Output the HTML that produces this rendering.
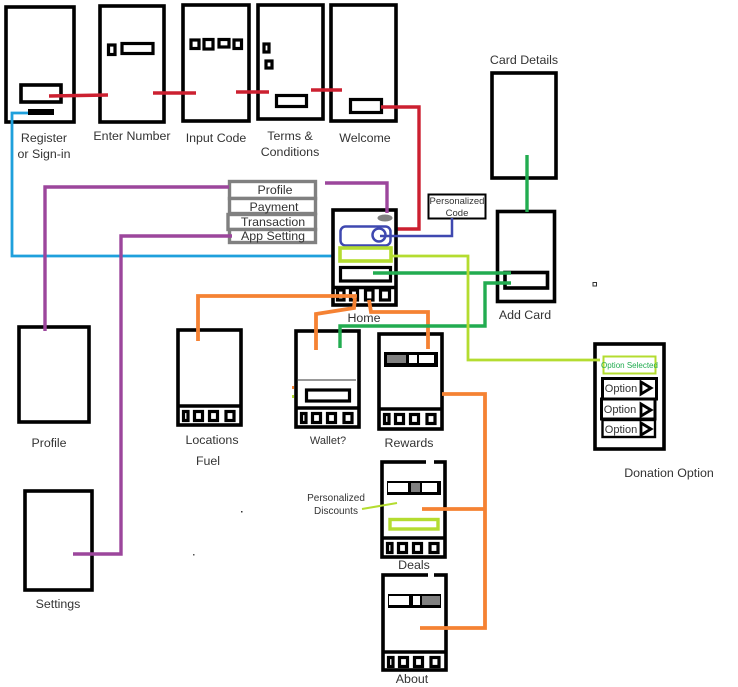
<!DOCTYPE html>
<html>
<head>
<meta charset="utf-8">
<style>
html,body{margin:0;padding:0;background:#fff}
svg{display:block;filter:blur(.35px)}
text{font-family:"Liberation Sans",sans-serif;font-size:12.4px;fill:#333;text-anchor:middle}
.b{fill:#fff;stroke:#000;stroke-width:3.6}
.s{fill:#fff;stroke:#000;stroke-width:3.2}
.l{fill:none;stroke-width:3.4;stroke-linejoin:miter}
.red{stroke:#cc2030}.blue{stroke:#1fa0dc;stroke-width:2.8}.pur{stroke:#9c469c}.or{stroke:#f58233;stroke-width:3.8}
.gr{stroke:#22ac50}.li{stroke:#b4dc30;stroke-width:2.8}.ind{stroke:#3f48b0;fill:none;stroke-width:2.5}
.g{fill:#fff;stroke:#808080;stroke-width:3.4}
</style>
</head>
<body>
<svg width="738" height="687" viewBox="0 0 738 687" xmlns="http://www.w3.org/2000/svg">
<defs>
<g id="nav">
<path d="M0 0H65" stroke="#000" stroke-width="3.4"/>
<rect x="6.500" y="5.500" width="4.500" height="9" class="s"/>
<rect x="17.500" y="5.500" width="8" height="9" class="s"/>
<rect x="32.500" y="5.500" width="8" height="9" class="s"/>
<rect x="49" y="5.500" width="8" height="9" class="s"/>
</g>
<path id="tri" d="M0 0L10 6L0 12Z" fill="#fff" stroke="#000" stroke-width="2.800"/>
</defs>

<!-- top row -->
<rect x="6" y="7" width="68" height="115" class="b"/>
<rect x="21" y="85" width="40" height="17" class="b"/>
<rect x="28" y="109" width="26" height="6" fill="#000"/>
<rect x="100" y="6" width="64" height="116" class="b"/>
<rect x="108.500" y="45" width="6.500" height="9.500" class="s"/>
<rect x="122" y="43.500" width="31" height="10" class="s"/>
<rect x="183" y="5" width="66" height="116" class="b"/>
<rect x="191" y="40" width="8" height="8.500" class="s"/>
<rect x="204" y="39.500" width="9" height="9.500" class="s"/>
<rect x="219" y="39.500" width="10" height="7.500" class="s"/>
<rect x="234" y="40" width="7.500" height="8.500" class="s"/>
<rect x="258" y="5" width="65" height="114" class="b"/>
<rect x="264" y="44" width="5" height="8" class="s"/>
<rect x="266" y="61" width="6" height="7" class="s"/>
<rect x="276.500" y="95.500" width="30" height="11" class="s"/>
<rect x="331" y="5" width="65" height="116" class="b"/>
<rect x="350.500" y="99.500" width="31" height="13" class="s"/>

<path class="l red" d="M49 96L108 95M153 93H196M236 92H269M311 90H342"/>
<path class="l red" d="M381 107H419V229H385"/>

<text x="44" y="142">Register</text>
<text x="44" y="158">or Sign-in</text>
<text x="132" y="140">Enter Number</text>
<text x="216" y="142">Input Code</text>
<text x="290" y="140">Terms &amp;</text>
<text x="290" y="156">Conditions</text>
<text x="365" y="142">Welcome</text>

<!-- blue -->
<path class="l blue" d="M28 113H12V256H335"/>

<!-- menu -->
<rect x="229.500" y="181.500" width="86" height="17" class="g"/>
<rect x="229.500" y="198.500" width="86" height="15" class="g"/>
<rect x="228" y="214.500" width="87.500" height="15" class="g"/>
<rect x="229.500" y="229.500" width="86" height="13" class="g"/>
<text x="275" y="194">Profile</text>
<text x="274" y="211">Payment</text>
<text x="273" y="226">Transaction</text>
<text x="273" y="240">App Setting</text>

<!-- home -->
<rect x="333" y="210" width="63" height="95" class="b"/>
<ellipse cx="385" cy="218" rx="7.500" ry="3.500" fill="#808080"/>
<rect x="340.500" y="226.500" width="50" height="19" rx="5" class="ind"/>
<circle cx="379" cy="235" r="6.500" class="ind"/>
<rect x="340.500" y="267.500" width="50" height="13.500" class="s"/>
<rect x="340" y="248" width="51" height="13" fill="#fff" stroke="#b4dc30" stroke-width="3.600"/>
<path d="M333 287.500H396" stroke="#000" stroke-width="3.400"/>
<rect x="337.500" y="290" width="6.500" height="10" class="s"/>
<rect x="350.500" y="290" width="7" height="10" class="s"/>
<rect x="365.500" y="290" width="7.500" height="10" class="s"/>
<rect x="380.500" y="290" width="9" height="10" class="s"/>
<text x="364" y="322">Home</text>

<!-- personalized code -->
<rect x="428.500" y="194.500" width="57" height="24" fill="#fff" stroke="#000" stroke-width="2"/>
<text x="457" y="204" style="font-size:9.500px">Personalized</text>
<text x="457" y="216" style="font-size:9.500px">Code</text>
<path class="ind" d="M380 236H452V218"/>

<!-- card details -->
<rect x="492" y="73" width="64" height="105" class="b"/>
<text x="524" y="64">Card Details</text>
<rect x="497.500" y="211.500" width="57" height="90" class="b"/>
<rect x="505" y="272.500" width="42.500" height="15.500" class="b"/>
<text x="525" y="319">Add Card</text>
<rect x="593" y="282.500" width="3.500" height="3.500" fill="#fff" stroke="#333" stroke-width="1"/>

<!-- screens -->
<rect x="19" y="327" width="70" height="95" class="b"/>
<text x="49" y="447">Profile</text>
<rect x="25" y="491" width="67" height="99" class="b"/>
<text x="58" y="608">Settings</text>

<rect x="178" y="330" width="63" height="95" class="b"/>
<use href="#nav" x="177" y="406"/>
<text x="212" y="444">Locations</text>
<text x="208" y="465">Fuel</text>

<rect x="296" y="331" width="63" height="96" class="b"/>
<path d="M297 380H356" stroke="#333" stroke-width="1"/>
<rect x="306.500" y="390" width="43" height="11" class="s"/>
<rect x="292" y="386" width="2" height="3" fill="#f58233"/>
<rect x="292" y="395" width="2" height="3" fill="#b4dc30"/>
<use href="#nav" x="295" y="408"/>
<text x="328" y="444" style="font-size:11px">Wallet?</text>

<rect x="379" y="334" width="63" height="95" class="b"/>
<rect x="384" y="352" width="54" height="15" fill="#000"/>
<rect x="387" y="355" width="19" height="8" fill="#808080"/>
<rect x="409" y="355" width="8" height="8" fill="#fff"/>
<rect x="419" y="355" width="15" height="8" fill="#fff"/>
<use href="#nav" x="378" y="409"/>
<text x="409" y="447">Rewards</text>

<rect x="382" y="462" width="63" height="95" class="b"/>
<rect x="426" y="458" width="8" height="6" fill="#fff"/>
<rect x="387" y="481" width="54" height="14" fill="#000"/>
<rect x="388" y="483" width="20" height="9" fill="#fff"/>
<rect x="411" y="483" width="9" height="9" fill="#808080"/>
<rect x="422" y="483" width="15" height="9" fill="#fff"/>
<rect x="390" y="519.500" width="48" height="9.500" fill="#fff" stroke="#b4dc30" stroke-width="3.400"/>
<use href="#nav" x="381" y="538"/>
<text x="414" y="569">Deals</text>
<text x="336" y="501" style="font-size:10px">Personalized</text>
<text x="336" y="514" style="font-size:10px">Discounts</text>
<path d="M362 509L397 503" stroke="#b4dc30" stroke-width="2" fill="none"/>

<rect x="383" y="575" width="63" height="95" class="b"/>
<rect x="428" y="571" width="6" height="6" fill="#fff"/>
<rect x="388" y="594" width="53" height="14" fill="#000"/>
<rect x="389" y="596" width="20" height="9" fill="#fff"/>
<rect x="413" y="596" width="7" height="9" fill="#fff"/>
<rect x="422" y="596" width="18" height="9" fill="#808080"/>
<use href="#nav" x="382" y="652"/>
<text x="412" y="683">About</text>

<rect x="241" y="511" width="1.500" height="1.500" fill="#333"/>
<rect x="193" y="554" width="1.500" height="1.500" fill="#555"/>

<!-- donation -->
<rect x="595" y="344" width="69" height="105" class="b"/>
<rect x="603.500" y="356.500" width="52" height="17" fill="#fff" stroke="#b4dc30" stroke-width="2"/>
<text x="629.500" y="368" style="font-size:8px;fill:#22ac50">Option Selected</text>
<rect x="602.500" y="378.500" width="54" height="20.500" fill="#fff" stroke="#000" stroke-width="3"/>
<rect x="601.500" y="399" width="53.500" height="20" fill="#fff" stroke="#000" stroke-width="3"/>
<rect x="602.500" y="420" width="52.500" height="17" fill="#fff" stroke="#000" stroke-width="2.400"/>
<text x="621" y="392" style="font-size:11px">Option</text>
<text x="620" y="413" style="font-size:11px">Option</text>
<text x="621" y="433" style="font-size:11px">Option</text>
<use href="#tri" x="641" y="382"/>
<use href="#tri" x="641" y="404"/>
<use href="#tri" x="641" y="423"/>
<text x="669" y="477">Donation Option</text>

<!-- purple -->
<path class="l pur" d="M229 187H45V331"/>
<path class="l pur" d="M232 236H121V554H73"/>
<path class="l pur" d="M325 183H387V213"/>

<!-- orange -->
<path class="l or" d="M357 296H198V341"/>
<path class="l or" d="M355 298L354 308L316 314V350"/>
<path class="l or" d="M369 300L371 312H428V349"/>
<path class="l or" d="M442 394H485V628H420"/>
<path class="l or" d="M422 509H485"/>

<!-- green -->
<path class="l gr" d="M373 273H511"/>
<path class="l gr" d="M340 348V326H485V283H511"/>
<path class="l gr" d="M527 155V212"/>

<!-- lime -->
<path class="l li" d="M392 256H468V360H600"/>
</svg>
</body>
</html>
